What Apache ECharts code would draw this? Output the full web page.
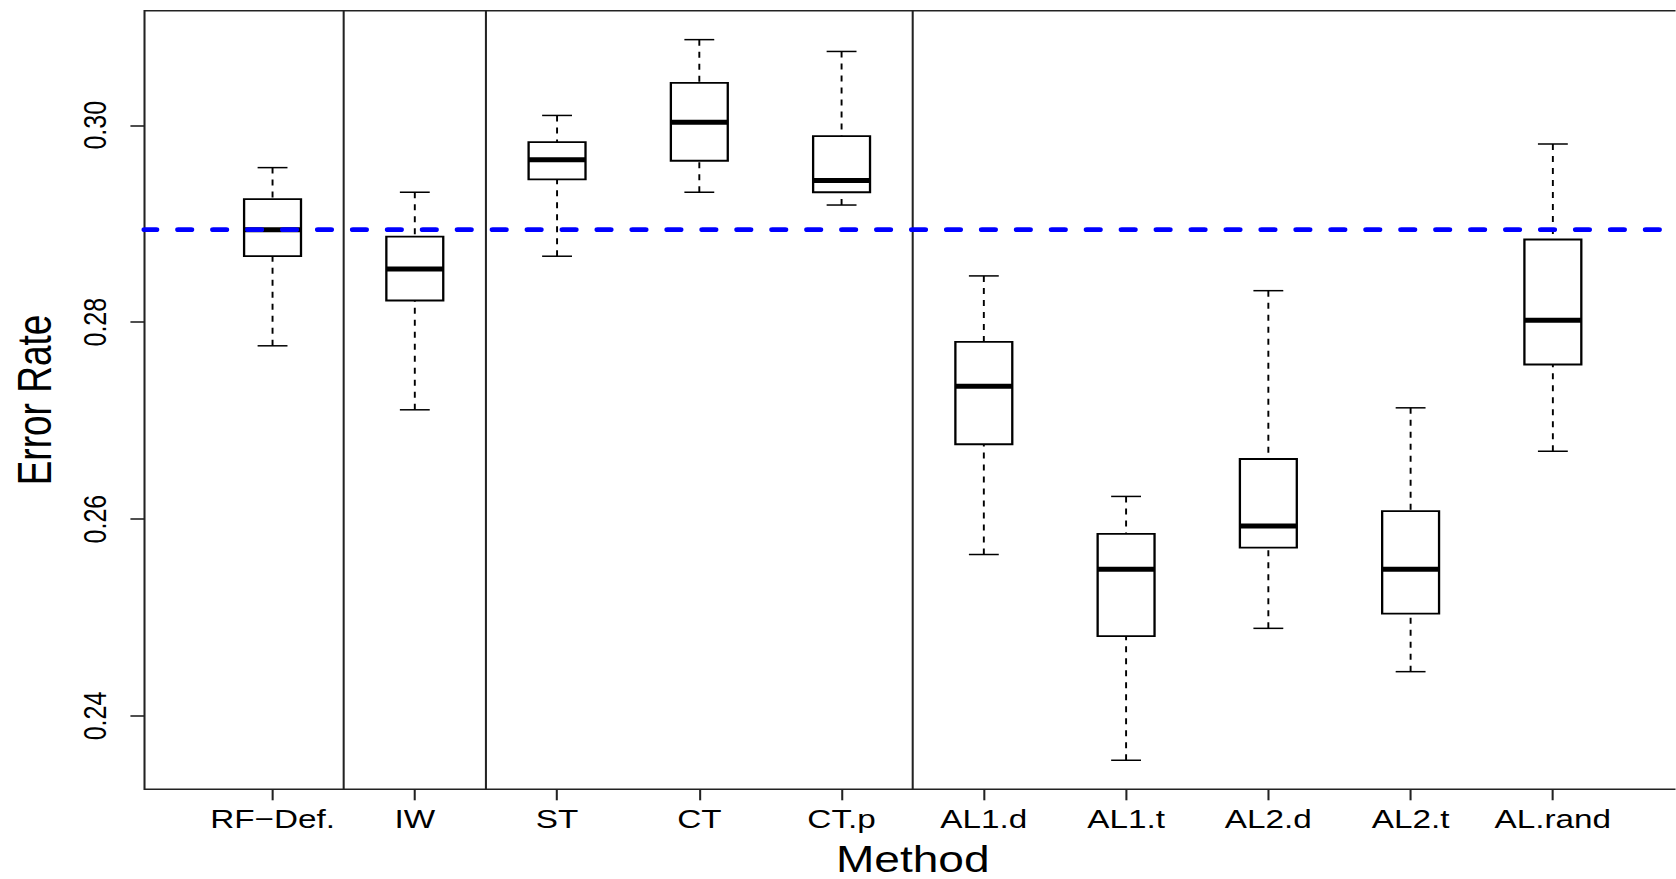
<!DOCTYPE html>
<html>
<head>
<meta charset="utf-8">
<script src="https://cdn.jsdelivr.net/npm/echarts@6/dist/echarts.min.js"></script>
<style>
  html, body { margin: 0; padding: 0; background: #fff; overflow: hidden; }
  #wrap { width: 1676px; height: 879px; overflow: hidden; position: relative; }
  #chart { position: absolute; left: 0; top: 0; width: 1309.375px; height: 879px;
           transform: scaleX(1.28); transform-origin: 0 0; }
</style>
</head>
<body>
<div id="wrap"><div id="chart"></div></div>
<script>
// ---- data ----
const categories   = ['RF\u2212Def.', 'IW', 'ST', 'CT', 'CT.p', 'AL1.d', 'AL1.t', 'AL2.d', 'AL2.t', 'AL.rand'];
const lowerWhisker = [0.2776, 0.2711, 0.2867, 0.2932, 0.2919, 0.2564, 0.2355, 0.2489, 0.2445, 0.2669];
const lowerHinge   = [0.2867, 0.2822, 0.2945, 0.2964, 0.2932, 0.2676, 0.2481, 0.2571, 0.2504, 0.2757];
const medians      = [0.2894, 0.2854, 0.2965, 0.3003, 0.2944, 0.2735, 0.2549, 0.2593, 0.2549, 0.2802];
const upperHinge   = [0.2925, 0.2887, 0.2983, 0.3043, 0.2989, 0.2780, 0.2585, 0.2661, 0.2608, 0.2884];
const upperWhisker = [0.2957, 0.2932, 0.3010, 0.3087, 0.3075, 0.2847, 0.2623, 0.2832, 0.2713, 0.2981];
const referenceLevel = 0.2894;
const groupSeparators = [1.5, 2.5, 5.5];
const yTickValues = [0.24, 0.26, 0.28, 0.30];
const xTickValues = [1, 2, 3, 4, 5, 6, 7, 8, 9, 10];

const X_MIN = 0.1, X_MAX = 10.9, Y_MIN = 0.23255, Y_MAX = 0.31164;
const BOX_HALF = 0.2, CAP_HALF = 0.105;
const FONT = '"Liberation Sans", Arial, Helvetica, sans-serif';

const boxData = categories.map((c, i) => [i + 1, lowerWhisker[i], lowerHinge[i], medians[i], upperHinge[i], upperWhisker[i]]);

const chart = echarts.init(document.getElementById('chart'), null, { renderer: 'svg' });

chart.setOption({
  animation: false,
  backgroundColor: '#fff',
  grid: {
    left: 112.9, top: 10.7, width: 1200.3, bottom: 89.7,
    containLabel: false, outerBoundsMode: 'none',
    show: true, borderColor: '#222', borderWidth: 1.6, backgroundColor: 'transparent'
  },
  xAxis: {
    type: 'value', min: X_MIN, max: X_MAX,
    name: 'Method', nameLocation: 'middle', nameGap: 56,
    nameTextStyle: { fontFamily: FONT, fontSize: 36, lineHeight: 28, color: '#000' },
    axisLine: { show: false },
    splitLine: { show: false },
    axisTick: { show: true, length: 11, customValues: xTickValues, lineStyle: { color: '#222', width: 1.6 } },
    axisLabel: {
      customValues: xTickValues, margin: 17, fontFamily: FONT, fontSize: 26, color: '#000',
      formatter: v => categories[Math.round(v) - 1] || ''
    }
  },
  yAxis: {
    type: 'value', min: Y_MIN, max: Y_MAX,
    name: 'Error Rate', nameLocation: 'middle', nameGap: 67, nameRotate: 90,
    nameTextStyle: { fontFamily: FONT, fontSize: 37, color: '#000' },
    axisLine: { show: false },
    splitLine: { show: false },
    axisTick: { show: true, length: 11, customValues: yTickValues, lineStyle: { color: '#222', width: 1.6 } },
    axisLabel: {
      customValues: yTickValues, margin: 26, rotate: 90, fontFamily: FONT, fontSize: 25, color: '#000',
      formatter: v => v.toFixed(2)
    }
  },
  series: [
    {
      type: 'custom', silent: true, z: 2,
      data: groupSeparators.map(x => [x]),
      encode: { x: 0 },
      renderItem: (params, api) => {
        const x = api.value(0);
        const a = api.coord([x, Y_MAX]), b = api.coord([x, Y_MIN]);
        return { type: 'line', shape: { x1: a[0], y1: a[1], x2: b[0], y2: b[1] },
                 style: { stroke: '#222', lineWidth: 1.6 } };
      }
    },
    {
      type: 'custom', silent: true, z: 3,
      data: boxData,
      encode: { x: 0, y: [1, 2, 3, 4, 5] },
      renderItem: (params, api) => {
        const x = api.value(0);
        const lo = api.value(1), q1 = api.value(2), med = api.value(3), q3 = api.value(4), hi = api.value(5);
        const p = (u, v) => api.coord([u, v]);
        const seg = (A, B, style) => ({ type: 'line', shape: { x1: A[0], y1: A[1], x2: B[0], y2: B[1] }, style });
        const dashed = { stroke: '#000', lineWidth: 1.5, lineDash: [6, 6] };
        const solid = { stroke: '#000', lineWidth: 1.5 };
        const tl = p(x - BOX_HALF, q3), br = p(x + BOX_HALF, q1);
        return {
          type: 'group',
          children: [
            seg(p(x, hi), p(x, q3), dashed),
            seg(p(x - CAP_HALF, hi), p(x + CAP_HALF, hi), solid),
            seg(p(x, lo), p(x, q1), dashed),
            seg(p(x - CAP_HALF, lo), p(x + CAP_HALF, lo), solid),
            { type: 'rect', shape: { x: tl[0], y: tl[1], width: br[0] - tl[0], height: br[1] - tl[1] },
              style: { fill: '#fff', stroke: '#000', lineWidth: 1.8 } },
            seg(p(x - BOX_HALF, med), p(x + BOX_HALF, med), { stroke: '#000', lineWidth: 5 })
          ]
        };
      }
    },
    {
      type: 'line', silent: true, z: 10,
      data: [[X_MIN, referenceLevel], [X_MAX, referenceLevel]],
      symbol: 'none',
      lineStyle: { color: '#0000ff', width: 4.7, type: [10.2, 17.1], dashOffset: 1, cap: 'round' }
    }
  ]
});
</script>
</body>
</html>
